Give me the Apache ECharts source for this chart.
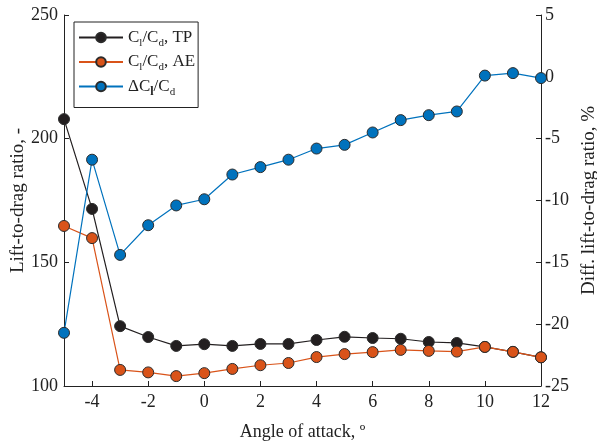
<!DOCTYPE html>
<html>
<head>
<meta charset="utf-8">
<script src="https://cdn.jsdelivr.net/npm/echarts@6/dist/echarts.min.js"></script>
<style>
  html, body { margin: 0; padding: 0; background: #fff; }
  #chart { width: 597px; height: 447px; }
</style>
</head>
<body>
<div id="chart"></div>
<script>
// angle of attack, deg
var angles = [-5, -4, -3, -2, -1, 0, 1, 2, 3, 4, 5, 6, 7, 8, 9, 10, 11, 12];
// lift-to-drag ratio
var ldTP = [207.9, 171.6, 124.2, 119.8, 116.2, 116.9, 116.2, 117.0, 117.0, 118.6, 119.9, 119.4, 119.1, 117.8, 117.4, 115.8, 113.8, 111.6];
var ldAE = [164.7, 159.8, 106.5, 105.5, 104.0, 105.2, 106.9, 108.4, 109.3, 111.7, 112.9, 113.7, 114.6, 114.2, 113.9, 115.8, 113.8, 111.6];
// difference, %
var ldDiff = [-20.7, -6.7, -14.4, -12.0, -10.4, -9.9, -7.9, -7.3, -6.7, -5.8, -5.5, -4.5, -3.5, -3.1, -2.8, 0.1, 0.3, -0.1];
var xTicks = [-4, -2, 0, 2, 4, 6, 8, 10, 12];

var serif = '"Liberation Serif", "Times New Roman", serif';

function pairs(ys) {
  return angles.map(function (a, i) { return [a, ys[i]]; });
}

var chart = echarts.init(document.getElementById('chart'));

var rich = {
  n: { fontFamily: serif, fontSize: 17, color: '#222', lineHeight: 22, verticalAlign: 'middle' },
  s: { fontFamily: serif, fontSize: 11, color: '#222', lineHeight: 22, verticalAlign: 'bottom' },
  sb: { fontFamily: serif, fontSize: 12, fontWeight: 'bold', color: '#222', lineHeight: 22, verticalAlign: 'bottom' }
};

function mkSeries(name, data, color, yIdx) {
  return {
    name: name,
    type: 'line',
    yAxisIndex: yIdx,
    data: pairs(data),
    symbol: 'circle',
    symbolSize: 11,
    lineStyle: { color: color, width: 1.2 },
    itemStyle: { color: color, borderColor: '#2b2b2b', borderWidth: 1 },
    emphasis: { disabled: true },
    z: 2
  };
}

var option = {
  animation: false,
  grid: { left: 64, right: 56, top: 15, bottom: 61, outerBoundsMode: 'none' },
  legend: {
    left: 74,
    top: 22,
    orient: 'vertical',
    itemWidth: 44,
    itemHeight: 12,
    itemGap: 5,
    padding: [7, 3, 10, 4],
    borderColor: '#222',
    borderWidth: 1,
    backgroundColor: '#fff',
    textStyle: { rich: rich },
    formatter: function (name) {
      if (name === 'TP') return '{n|C}{s|l}{n|/C}{s|d}{n|, TP}';
      if (name === 'AE') return '{n|C}{s|l}{n|/C}{s|d}{n|, AE}';
      return '{n|\u0394C}{sb|l}{n|/C}{s|d}';
    }
  },
  xAxis: {
    type: 'value',
    min: -5,
    max: 12,
    name: 'Angle of attack, \u00ba',
    nameLocation: 'middle',
    nameGap: 37,
    nameMoveOverlap: false,
    nameTextStyle: { fontFamily: serif, fontSize: 18, color: '#222' },
    axisLine: { show: true, onZero: false, lineStyle: { color: '#222', width: 1 } },
    axisTick: { inside: true, length: 5, customValues: xTicks, lineStyle: { color: '#222' } },
    axisLabel: { customValues: xTicks, fontFamily: serif, fontSize: 18, color: '#222', margin: 7 },
    splitLine: { show: false }
  },
  yAxis: [
    {
      type: 'value',
      min: 100,
      max: 250,
      interval: 50,
      name: 'Lift-to-drag ratio, -',
      nameLocation: 'middle',
      nameRotate: 90,
      nameGap: 36,
      nameMoveOverlap: false,
      nameTextStyle: { fontFamily: serif, fontSize: 19, color: '#222' },
      axisLine: { show: true, onZero: false, lineStyle: { color: '#222', width: 1 } },
      axisTick: { show: true, inside: true, length: 5, lineStyle: { color: '#222' } },
      axisLabel: { fontFamily: serif, fontSize: 18, color: '#222', margin: 6 },
      splitLine: { show: false }
    },
    {
      type: 'value',
      position: 'right',
      min: -25,
      max: 5,
      interval: 5,
      name: 'Diff. lift-to-drag ratio, %',
      nameLocation: 'middle',
      nameRotate: 90,
      nameGap: 39,
      nameTextStyle: { fontFamily: serif, fontSize: 19, color: '#222' },
      axisLine: { show: true, onZero: false, lineStyle: { color: '#222', width: 1 } },
      axisTick: { show: true, inside: true, length: 5, lineStyle: { color: '#222' } },
      axisLabel: { fontFamily: serif, fontSize: 18, color: '#222', margin: 4 },
      splitLine: { show: false }
    }
  ],
  series: [
    mkSeries('TP', ldTP, '#231f20', 0),
    mkSeries('AE', ldAE, '#d95319', 0),
    mkSeries('diff', ldDiff, '#0072bd', 1)
  ]
};

chart.setOption(option);
</script>
</body>
</html>
